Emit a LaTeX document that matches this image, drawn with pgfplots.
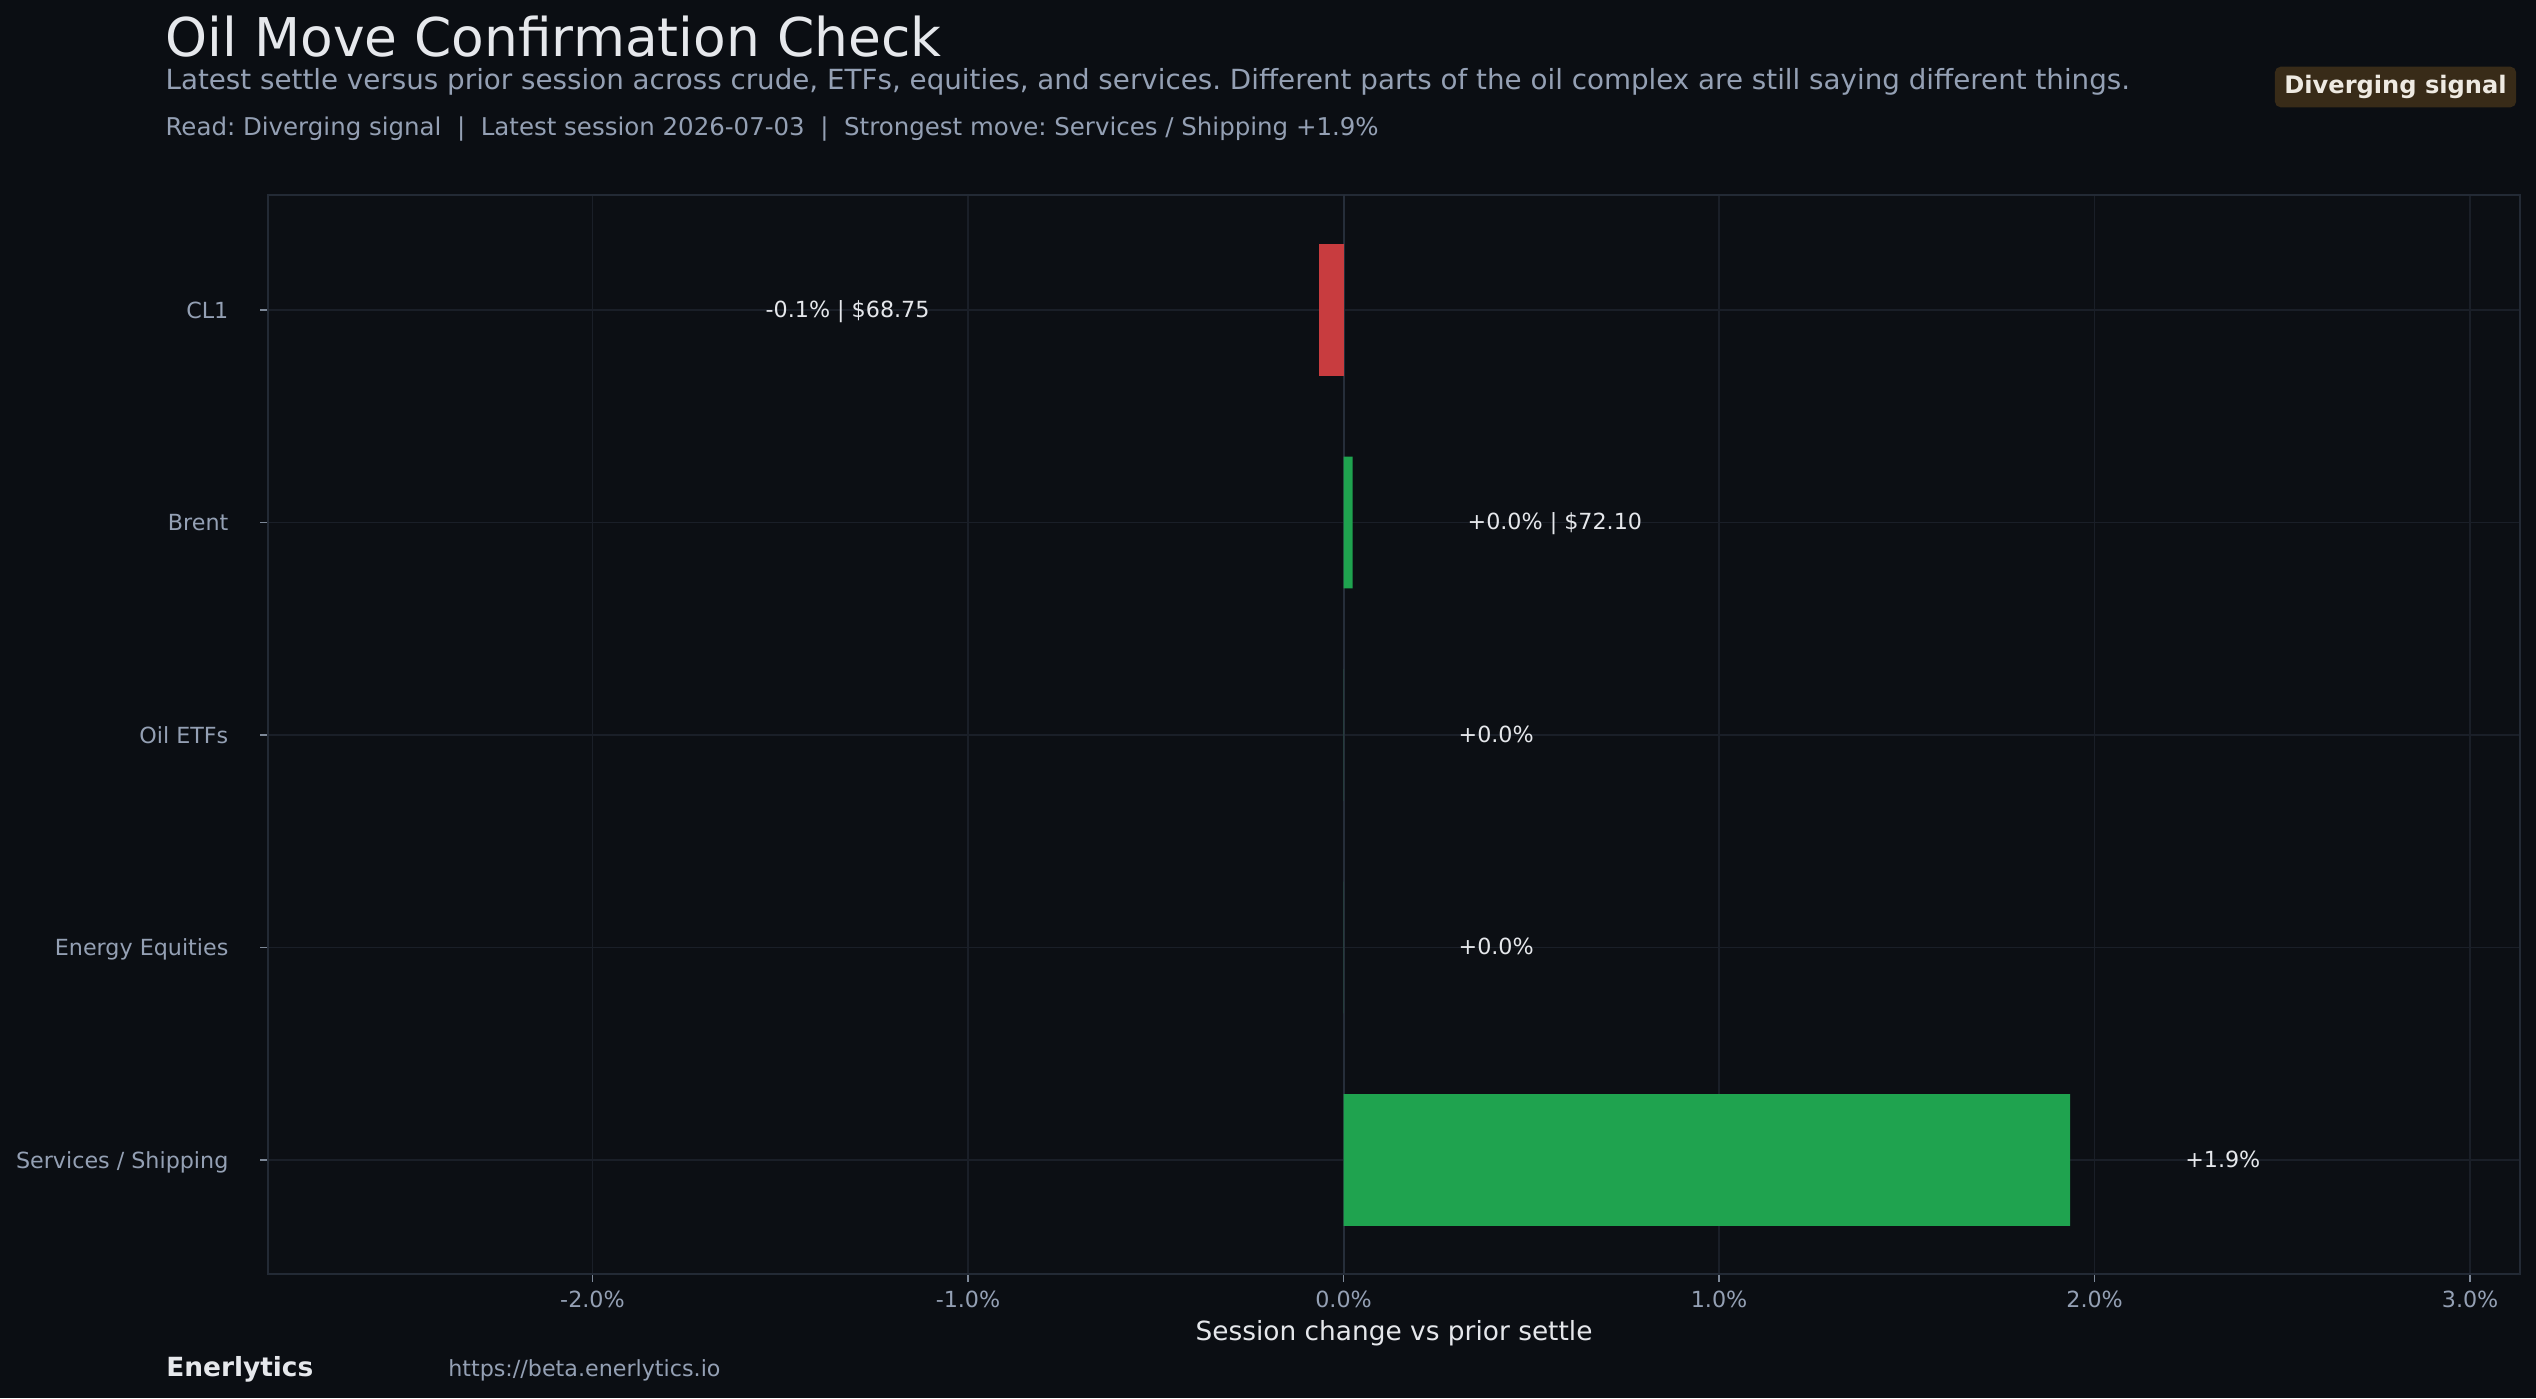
\documentclass[border=0pt]{standalone}
\usepackage{fontspec}
\setmainfont{DejaVu Sans}
\usepackage{pgfplots}
\pgfplotsset{compat=1.18}
\frenchspacing

\definecolor{bgc}{HTML}{0B0E13}
\definecolor{facec}{HTML}{0C0F14}
\definecolor{gridc}{HTML}{1A1F28}
\definecolor{spinec}{HTML}{232A35}
\definecolor{zeroc}{HTML}{262E3A}
\definecolor{tickc}{HTML}{7D8898}
\definecolor{mutedc}{HTML}{94A0B4}
\definecolor{textc}{HTML}{E5E7EB}
\definecolor{titlec}{HTML}{E6E8EC}
\definecolor{negc}{HTML}{C83C3F}
\definecolor{posc}{HTML}{1FA34F}
\definecolor{badgebg}{HTML}{382B18}
\definecolor{badgetx}{HTML}{EEEAE2}

\newcommand{\fs}[1]{\fontsize{#1bp}{#1bp}\selectfont}

\begin{document}
\begin{tikzpicture}[x=0.36bp,y=-0.36bp]
\path[use as bounding box, fill=bgc] (0,0) rectangle (2536,1398);

\begin{axis}[
  at={(96.48bp,-458.64bp)}, anchor=south west,
  scale only axis, width=810.72bp, height=388.44bp,
  xmin=-2.864, xmax=3.133, ymin=-0.5416, ymax=4.537, y dir=reverse,
  axis background/.style={fill=facec},
  axis line style={spinec, line width=0.7bp},
  xtick={-2,-1,0,1,2,3},
  xticklabels={-2.0\%,-1.0\%,0.0\%,1.0\%,2.0\%,3.0\%},
  ytick={0,1,2,3,4},
  yticklabels={CL1,Brent,Oil ETFs,Energy Equities,Services / Shipping},
  xtick pos=bottom, ytick pos=left,
  tick align=outside, major tick length=2.88bp,
  tick style={tickc, line width=0.6bp},
  grid=major, grid style={gridc, line width=0.6bp},
  ticklabel style={font=\fs{8}, text=mutedc, inner sep=0pt, text height=5.83bp, text depth=0pt},
  yticklabel style={anchor=east},
  xticklabel style={anchor=north},
  yticklabel shift=11.2bp,
  xticklabel shift=3.2bp,
]
\draw[zeroc, line width=0.7bp] (axis cs:0,-0.5416) -- (axis cs:0,4.537);

% session change, percent
\addplot[xbar, bar shift=0pt, bar width=0.62, fill=negc, draw=none] coordinates {(-0.066,0)};
\addplot[xbar, bar shift=0pt, bar width=0.62, fill=posc, draw=none] coordinates {(0.024,1) (0,2) (0,3) (1.935,4)};

\tikzset{barlbl/.style={inner sep=0pt, font=\fs{8}, text=textc, text height=5.83bp, text depth=0pt, yshift=0.3bp}}
\node[barlbl, anchor=east] at (axis cs:-1.101,0) {-0.1\% | \$68.75};
\node[barlbl, anchor=west] at (axis cs:0.329,1) {+0.0\% | \$72.10};
\node[barlbl, anchor=west] at (axis cs:0.305,2) {+0.0\%};
\node[barlbl, anchor=west] at (axis cs:0.305,3) {+0.0\%};
\node[barlbl, anchor=west] at (axis cs:2.240,4) {+1.9\%};
\end{axis}

\node[anchor=base west, inner sep=0pt, text=titlec, font=\fs{19.23}] at (165,56.7) {Oil Move Confirmation Check};
\node[anchor=base west, inner sep=0pt, text=mutedc, font=\fs{9.99}] at (165,90) {Latest settle versus prior session across crude, ETFs, equities, and services. Different parts of the oil complex are still saying different things.};
\node[anchor=base west, inner sep=0pt, text=mutedc, font=\fs{8.81}] at (165,135.7) {Read: Diverging signal\ \ |\ \ Latest session 2026-07-03\ \ |\ \ Strongest move: Services / Shipping +1.9\%};

\node[fill=badgebg, rounded corners=2bp, text=badgetx, font=\bfseries\fs{8.68}, minimum width=86.8bp, minimum height=14.6bp, inner sep=0pt] at (2395.5,87) {Diverging signal};

\node[anchor=base, inner sep=0pt, text=textc, font=\fs{9.5}] at (1394,1340) {Session change vs prior settle};

\node[anchor=base west, inner sep=0pt, text=titlec, font=\bfseries\fs{9.5}] at (165.8,1376.7) {Enerlytics};
\node[anchor=base west, inner sep=0pt, text=mutedc, font=\fs{8}] at (447.7,1376.7) {https://beta.enerlytics.io};
\end{tikzpicture}
\end{document}
